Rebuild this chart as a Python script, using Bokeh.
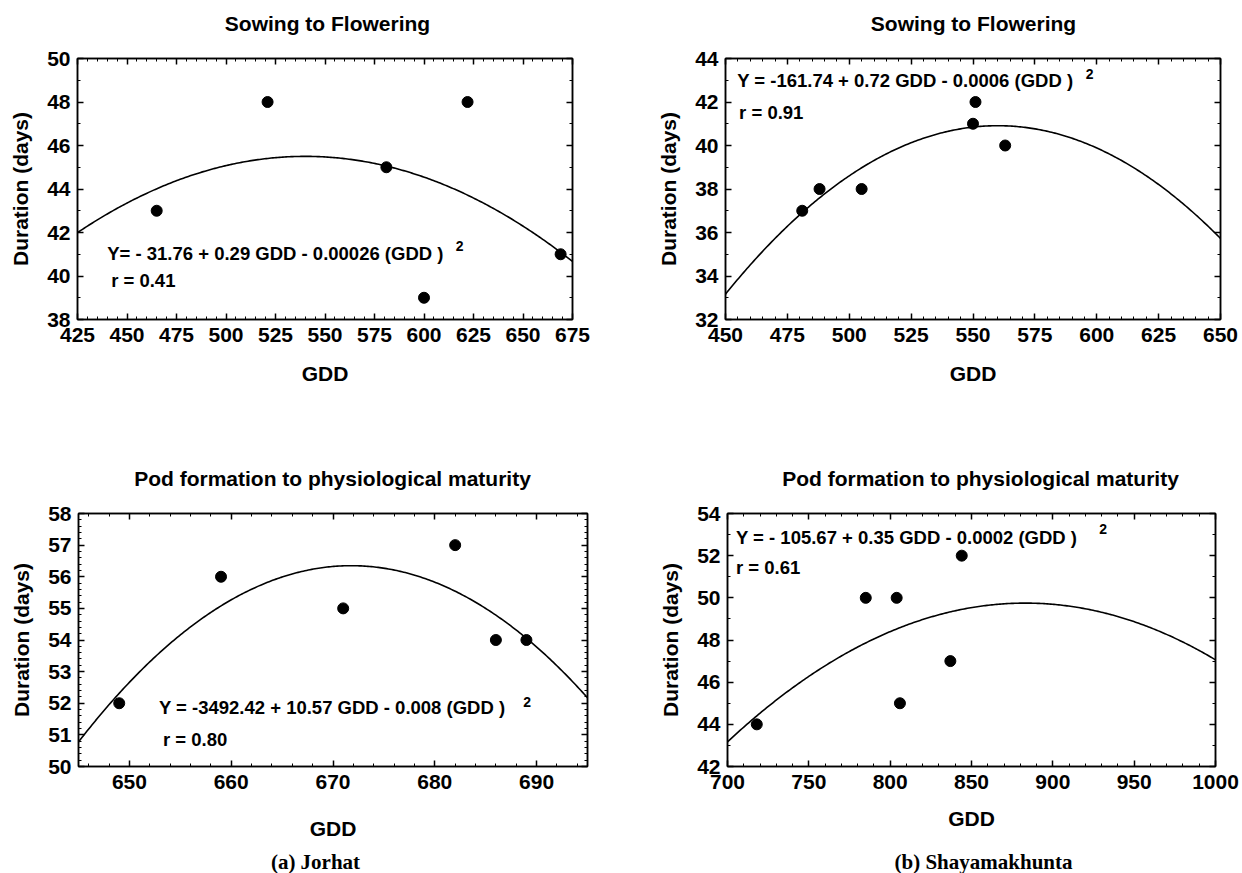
import numpy as np
from bokeh.plotting import figure
from bokeh.models import Range1d, LinearAxis, SingleIntervalTicker, Label
from bokeh.layouts import column, row
from bokeh.embed import file_html
from bokeh.resources import INLINE

# ---------------- data ----------------
# fitted curves as drawn, vertex form: [peak GDD, peak duration, curvature]
# (a) Jorhat - Sowing to Flowering
jor_sf_gdd = [465, 521, 581, 600, 622, 669]
jor_sf_days = [43, 48, 45, 39, 48, 41]
jor_sf_fit = [540, 45.5, 0.000265]
jor_sf_eq = "Y= - 31.76 + 0.29 GDD - 0.00026 (GDD )"
jor_sf_r = "r = 0.41"

# (b) Shayamakhunta - Sowing to Flowering
shy_sf_gdd = [481, 488, 505, 550, 551, 563]
shy_sf_days = [37, 38, 38, 41, 42, 40]
shy_sf_fit = [560, 40.91, 0.00064]
shy_sf_eq = "Y = -161.74 + 0.72 GDD - 0.0006 (GDD )"
shy_sf_r = "r = 0.91"

# (a) Jorhat - Pod formation to physiological maturity
jor_pm_gdd = [649, 659, 671, 682, 686, 689]
jor_pm_days = [52, 56, 55, 57, 54, 54]
jor_pm_fit = [671.8, 56.35, 0.00776]
jor_pm_eq = "Y = -3492.42 + 10.57 GDD - 0.008 (GDD )"
jor_pm_r = "r = 0.80"

# (b) Shayamakhunta - Pod formation to physiological maturity
shy_pm_gdd = [718, 785, 804, 806, 837, 844]
shy_pm_days = [44, 50, 50, 45, 47, 52]
shy_pm_fit = [883, 49.75, 0.0001965]
shy_pm_eq = "Y = - 105.67 + 0.35 GDD - 0.0002 (GDD )"
shy_pm_r = "r = 0.61"

titles = ["Sowing to Flowering", "Sowing to Flowering",
          "Pod formation to physiological maturity", "Pod formation to physiological maturity"]
captions = ["(a) Jorhat", "(b) Shayamakhunta"]
x_label = "GDD"
y_label = "Duration (days)"

FONT = "Liberation Sans"


def style_axis(ax, labels=True):
    ax.major_tick_in = 6
    ax.major_tick_out = 0
    ax.minor_tick_in = 3
    ax.minor_tick_out = 0
    ax.axis_line_color = "black"
    ax.axis_line_width = 1.5
    ax.major_tick_line_color = "black"
    ax.major_tick_line_width = 1.5
    ax.minor_tick_line_color = "black"
    ax.minor_tick_line_width = 1
    if labels:
        ax.major_label_text_font = FONT
        ax.major_label_text_font_style = "bold"
        ax.major_label_text_font_size = "21px"
        ax.major_label_text_color = "black"
        ax.axis_label_text_font = FONT
        ax.axis_label_text_font_style = "bold"
        ax.axis_label_text_font_size = "21px"
        ax.axis_label_text_color = "black"
    else:
        ax.major_label_text_font_size = "1px"
        ax.major_label_text_color = None
        ax.major_label_standoff = 0


def panel(gdd, days, fit, xr, yr, xint, yint, yminor, eq, eq_xy, r_txt, r_xy, sup_xy,
          w, h, bl, br, bt, bb, xlab_standoff):
    p = figure(width=w, height=h, x_range=Range1d(*xr), y_range=Range1d(*yr),
               output_backend="svg", toolbar_location=None,
               min_border_left=bl, min_border_right=br, min_border_top=bt, min_border_bottom=bb)
    p.title.visible = False
    p.xgrid.visible = False
    p.ygrid.visible = False
    p.outline_line_color = "black"
    p.outline_line_width = 1.5
    p.background_fill_color = "white"
    p.border_fill_color = "white"

    p.xaxis.ticker = SingleIntervalTicker(interval=xint, num_minor_ticks=5)
    p.yaxis.ticker = SingleIntervalTicker(interval=yint, num_minor_ticks=yminor)
    for ax in p.xaxis + p.yaxis:
        style_axis(ax)
    p.xaxis.axis_label = x_label
    p.yaxis.axis_label = y_label
    p.xaxis.major_label_standoff = 8
    p.yaxis.major_label_standoff = 7
    p.xaxis.axis_label_standoff = xlab_standoff
    p.yaxis.axis_label_standoff = 12

    top = LinearAxis(ticker=SingleIntervalTicker(interval=xint, num_minor_ticks=5))
    style_axis(top, labels=False)
    p.add_layout(top, "above")
    right = LinearAxis(ticker=SingleIntervalTicker(interval=yint, num_minor_ticks=yminor))
    style_axis(right, labels=False)
    p.add_layout(right, "right")

    xs = np.linspace(xr[0], xr[1], 300)
    ys = fit[1] - fit[2] * (xs - fit[0]) ** 2
    p.line(xs, ys, line_color="black", line_width=1.6)
    p.scatter(gdd, days, size=11, color="black")

    for txt, xy, size in ((eq, eq_xy, "18.5px"), (r_txt, r_xy, "18.5px"), ("2", sup_xy, "14px")):
        p.add_layout(Label(x=xy[0], y=xy[1], text=txt, text_font=FONT, text_font_style="bold",
                           text_font_size=size, text_color="black",
                           text_baseline="middle", text_align="left"))
    return p


def text_strip(text, w, h, cx, cy, font, size):
    # a plain text strip (no axes); cx, cy are pixel offsets inside the strip (from its bottom-left)
    c = figure(width=w, height=h, x_range=Range1d(0, w), y_range=Range1d(0, h),
               output_backend="svg", toolbar_location=None,
               x_axis_location=None, y_axis_location=None, min_border=0)
    c.title.visible = False
    c.xgrid.visible = False
    c.ygrid.visible = False
    c.outline_line_color = None
    c.add_layout(Label(x=cx, y=cy, text=text, text_font=font,
                       text_font_style="bold", text_font_size=size, text_color="black",
                       text_baseline="middle", text_align="center"))
    return c


t1 = text_strip(titles[0], 621, 46, 327, 23, FONT, "21px")
t2 = text_strip(titles[1], 621, 46, 352, 23, FONT, "21px")
p1 = panel(jor_sf_gdd, jor_sf_days, jor_sf_fit, (425, 675), (38, 50), 25, 2, 2,
           jor_sf_eq, (440, 41.03), jor_sf_r, (442, 39.8), (616, 41.4),
           621, 378, 77, 49, 12, 105, 17)
p2 = panel(shy_sf_gdd, shy_sf_days, shy_sf_fit, (450, 650), (32, 44), 25, 2, 2,
           shy_sf_eq, (454.7, 42.99), shy_sf_r, (455.5, 41.53), (595.6, 43.3),
           621, 378, 104, 22, 12, 105, 17)
t3 = text_strip(titles[2], 621, 72, 332, 18, FONT, "21px")
t4 = text_strip(titles[3], 621, 72, 359, 18, FONT, "21px")
p3 = panel(jor_pm_gdd, jor_pm_days, jor_pm_fit, (645, 695), (50, 58), 10, 1, 5,
           jor_pm_eq, (652.9, 51.85), jor_pm_r, (653.3, 50.86), (688.7, 52.03),
           621, 353, 78, 34, 17, 76, 25)
p4 = panel(shy_pm_gdd, shy_pm_days, shy_pm_fit, (700, 1000), (42, 54), 50, 2, 2,
           shy_pm_eq, (705.2, 52.87), shy_pm_r, (705.2, 51.46), (928.6, 53.25),
           621, 353, 106, 27, 15, 83, 15)
c1 = text_strip(captions[0], 621, 24, 315, 12, "Liberation Serif", "21px")
c2 = text_strip(captions[1], 621, 24, 362, 12, "Liberation Serif", "21px")

layout = column(row(t1, t2), row(p1, p2), row(t3, t4), row(p3, p4), row(c1, c2))
open("out.html", "w").write(file_html(layout, INLINE))
